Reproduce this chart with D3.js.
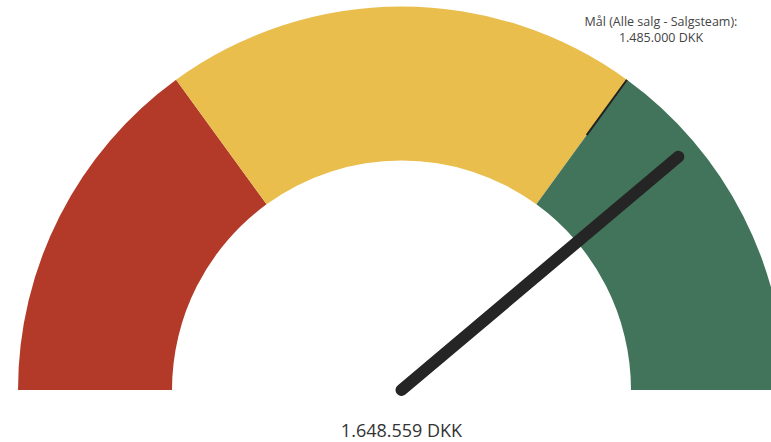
<!DOCTYPE html>
<html>
<head>
<meta charset="utf-8">
<script src="https://cdn.jsdelivr.net/npm/d3@7"></script>
<style>
  body { margin: 0; background: #fff; }
  svg { display: block; font-family: "Segoe UI", "Open Sans", "Noto Sans", sans-serif; }
</style>
</head>
<body>
<div id="chart"></div>
<script>
// Gauge values (max estimated from the needle/target positions)
var gaugeMin = 0;
var gaugeMax = 2121429;
var bandStops = [0, 636429, 1485000, 2121429];
var bandColors = ["#B33A28", "#E9BE4D", "#41745A"];
var actualValue = 1648559;
var targetValue = 1485000;
var valueLabel = "1.648.559 DKK";
var targetLabel = ["Mål (Alle salg - Salgsteam):", "1.485.000 DKK"];

var W = 771, H = 442;
var cx = 401.5, cy = 390;
var outerR = 383.5, innerR = 229.5;

var svg = d3.select("#chart").append("svg")
    .attr("width", W)
    .attr("height", H);

// Value -> angle (d3 arc convention: 0 at top, clockwise)
var angle = d3.scaleLinear()
    .domain([gaugeMin, gaugeMax])
    .range([-Math.PI / 2, Math.PI / 2]);

var arc = d3.arc()
    .innerRadius(innerR)
    .outerRadius(outerR);

var g = svg.append("g").attr("transform", "translate(" + cx + "," + cy + ")");

// Colour bands
for (var i = 0; i < bandColors.length; i++) {
  g.append("path")
    .attr("d", arc({startAngle: angle(bandStops[i]), endAngle: angle(bandStops[i + 1])}))
    .style("fill", bandColors[i]);
}

// Target marker on the outer part of the band
var ta = angle(targetValue);
g.append("line")
    .attr("x1", Math.sin(ta) * 315)
    .attr("y1", -Math.cos(ta) * 315)
    .attr("x2", Math.sin(ta) * outerR)
    .attr("y2", -Math.cos(ta) * outerR)
    .style("stroke", "#222")
    .style("stroke-width", 2);

// Needle
var na = angle(actualValue);
g.append("line")
    .attr("x1", 0)
    .attr("y1", 0)
    .attr("x2", Math.sin(na) * 362)
    .attr("y2", -Math.cos(na) * 362)
    .style("stroke", "#252525")
    .style("stroke-width", 12)
    .style("stroke-linecap", "round");

// Value label
svg.append("text")
    .attr("x", cx)
    .attr("y", 437)
    .attr("text-anchor", "middle")
    .style("font-size", "18px")
    .style("fill", "#333")
    .text(valueLabel);

// Target label
svg.selectAll("text.target")
    .data(targetLabel)
    .enter().append("text")
    .attr("class", "target")
    .attr("x", 661)
    .attr("y", function(d, i) { return 26 + i * 16; })
    .attr("text-anchor", "middle")
    .style("font-size", "12.5px")
    .style("fill", "#444")
    .text(function(d) { return d; });
</script>
</body>
</html>
